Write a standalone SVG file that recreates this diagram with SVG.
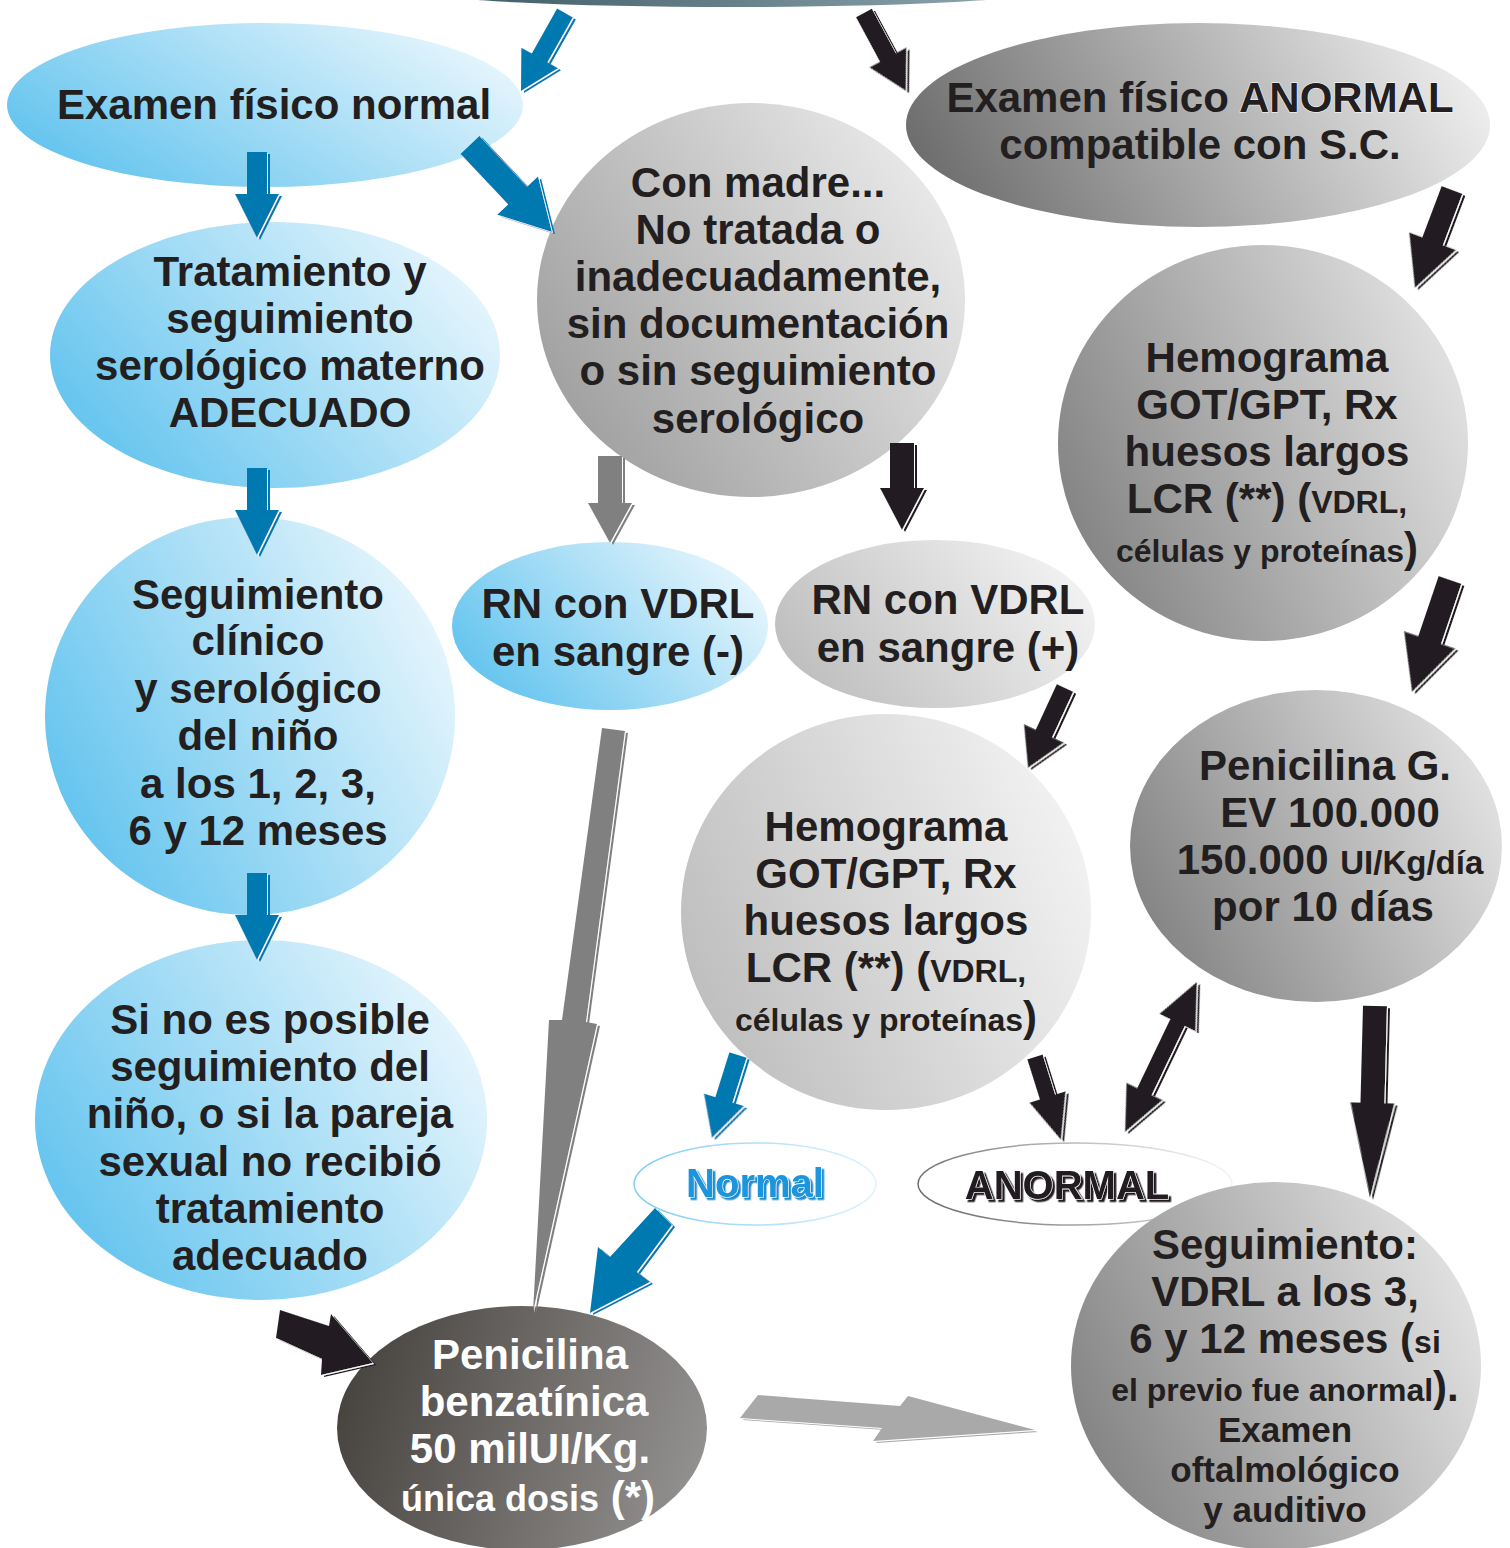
<svg xmlns="http://www.w3.org/2000/svg" xmlns:xlink="http://www.w3.org/1999/xlink" width="1510" height="1548" viewBox="0 0 1510 1548">
<defs>
<linearGradient id="gBlue" x1="0" y1="0.75" x2="1" y2="0.25"><stop offset="0" stop-color="#5fc2ee"/><stop offset="1" stop-color="#eaf7fd"/></linearGradient>
<linearGradient id="gA" x1="0" y1="0.8" x2="1" y2="0.2"><stop offset="0" stop-color="#9c9c9c"/><stop offset="1" stop-color="#ededed"/></linearGradient>
<linearGradient id="gB" x1="0" y1="0.7" x2="1" y2="0.3"><stop offset="0" stop-color="#828282"/><stop offset="1" stop-color="#e3e3e3"/></linearGradient>
<linearGradient id="gC" x1="0" y1="0.7" x2="1" y2="0.3"><stop offset="0" stop-color="#bdbdbd"/><stop offset="1" stop-color="#f3f3f3"/></linearGradient>
<linearGradient id="gD" x1="0" y1="0.6" x2="1" y2="0.4"><stop offset="0" stop-color="#6c6c6c"/><stop offset="1" stop-color="#eeeeee"/></linearGradient>
<linearGradient id="gE" x1="0" y1="0.4" x2="1" y2="0.6"><stop offset="0" stop-color="#47433f"/><stop offset="1" stop-color="#939190"/></linearGradient>
<linearGradient id="gTop" x1="0" y1="0" x2="1" y2="0"><stop offset="0" stop-color="#3c5964"/><stop offset="1" stop-color="#91a8b0"/></linearGradient>
<linearGradient id="sBlue" x1="0" y1="0.5" x2="1" y2="0.5"><stop offset="0" stop-color="#7fcdf3"/><stop offset="1" stop-color="#dff3fc"/></linearGradient>
<linearGradient id="sGray" x1="0" y1="0.6" x2="1" y2="0.4"><stop offset="0" stop-color="#6a6a6a"/><stop offset="1" stop-color="#f4f4f4"/></linearGradient>
<filter id="edge" x="-5%" y="-5%" width="110%" height="110%">
<feOffset in="SourceGraphic" dx="2.6" dy="1.6" result="s"/>
<feOffset in="SourceAlpha" dx="1.3" dy="0.8" result="w0"/>
<feFlood flood-color="#ffffff"/>
<feComposite in2="w0" operator="in" result="w"/>
<feMerge><feMergeNode in="s"/><feMergeNode in="w"/><feMergeNode in="SourceGraphic"/></feMerge>
</filter>
<filter id="shBlue" x="-10%" y="-20%" width="120%" height="150%"><feDropShadow dx="2.5" dy="2.5" stdDeviation="0" flood-color="#1b8fd2"/></filter>
<filter id="shDark" x="-10%" y="-20%" width="120%" height="150%"><feDropShadow dx="2.5" dy="2.5" stdDeviation="0" flood-color="#231f20"/></filter>
</defs>
<style>
.t{font-family:"Liberation Sans",Arial,sans-serif;font-weight:bold;font-size:42px;fill:#231f20;text-anchor:middle}
.s32{font-size:32px}
.s35{font-size:35px}
.wh{fill:#ffffff}
.blue{fill:#0079b1}
.black{fill:#231f20}
.grey{fill:#808080}
.lgrey{fill:#a9a9a9}
</style>
<rect width="1510" height="1548" fill="#ffffff"/>

<g id="node-top"><ellipse cx="732" cy="-8" rx="300" ry="15" fill="url(#gTop)"/></g>

<g id="node-examen-normal">
<ellipse cx="265" cy="105" rx="258" ry="82" fill="url(#gBlue)"/>
<text class="t" x="274" y="119">Examen físico normal</text>
</g>

<g id="node-examen-anormal">
<ellipse cx="1198" cy="125" rx="292" ry="102" fill="url(#gD)"/>
<text class="t" x="1200" y="112">Examen físico <tspan stroke="#ffffff" stroke-width="1" paint-order="stroke">ANORMAL</tspan></text>
<text class="t" x="1200" y="159">compatible con S.C.</text>
</g>

<g id="node-tratamiento">
<ellipse cx="275" cy="355" rx="225" ry="133" fill="url(#gBlue)"/>
<text class="t" x="290" y="286">Tratamiento y</text>
<text class="t" x="290" y="333">seguimiento</text>
<text class="t" x="290" y="380">serológico materno</text>
<text class="t" x="290" y="427">ADECUADO</text>
</g>

<g id="node-seguimiento-clinico">
<ellipse cx="250" cy="716" rx="205" ry="199" fill="url(#gBlue)"/>
<text class="t" x="258" y="609">Seguimiento</text>
<text class="t" x="258" y="655">clínico</text>
<text class="t" x="258" y="703">y serológico</text>
<text class="t" x="258" y="750">del niño</text>
<text class="t" x="258" y="798">a los 1, 2, 3,</text>
<text class="t" x="258" y="845">6 y 12 meses</text>
</g>

<g id="node-si-no-posible">
<ellipse cx="261" cy="1120" rx="226" ry="180" fill="url(#gBlue)"/>
<text class="t" x="270" y="1034">Si no es posible</text>
<text class="t" x="270" y="1081">seguimiento del</text>
<text class="t" x="270" y="1128">niño, o si la pareja</text>
<text class="t" x="270" y="1176">sexual no recibió</text>
<text class="t" x="270" y="1223">tratamiento</text>
<text class="t" x="270" y="1270">adecuado</text>
</g>

<g id="node-con-madre">
<ellipse cx="751" cy="300" rx="214" ry="197" fill="url(#gA)"/>
<text class="t" x="758" y="197">Con madre...</text>
<text class="t" x="758" y="244">No tratada o</text>
<text class="t" x="758" y="291">inadecuadamente,</text>
<text class="t" x="758" y="338">sin documentación</text>
<text class="t" x="758" y="385">o sin seguimiento</text>
<text class="t" x="758" y="433">serológico</text>
</g>

<g id="node-rn-negativo">
<ellipse cx="610" cy="626" rx="158" ry="84" fill="url(#gBlue)"/>
<text class="t" x="618" y="618">RN con VDRL</text>
<text class="t" x="618" y="666">en sangre (-)</text>
</g>

<g id="node-rn-positivo">
<ellipse cx="935" cy="624" rx="160" ry="84" fill="url(#gC)"/>
<text class="t" x="948" y="614">RN con VDRL</text>
<text class="t" x="948" y="662">en sangre (+)</text>
</g>

<g id="node-hemograma-derecha">
<ellipse cx="1263" cy="443" rx="205" ry="198" fill="url(#gB)"/>
<text class="t" x="1267" y="372">Hemograma</text>
<text class="t" x="1267" y="419">GOT/GPT, Rx</text>
<text class="t" x="1267" y="466">huesos largos</text>
<text class="t" x="1267" y="513">LCR (**) (<tspan class="s32">VDRL,</tspan></text>
<text class="t" x="1267" y="562"><tspan class="s32">células y proteínas</tspan>)</text>
</g>

<g id="node-penicilina-g">
<ellipse cx="1316" cy="846" rx="186" ry="156" fill="url(#gB)"/>
<text class="t" x="1325" y="780">Penicilina G.</text>
<text class="t" x="1330" y="827">EV 100.000</text>
<text class="t" x="1330" y="874">150.000 <tspan style="font-size:33px">UI/Kg/día</tspan></text>
<text class="t" x="1323" y="921">por 10 días</text>
</g>

<g id="node-hemograma-centro">
<ellipse cx="886" cy="912" rx="205" ry="198" fill="url(#gC)"/>
<text class="t" x="886" y="841">Hemograma</text>
<text class="t" x="886" y="888">GOT/GPT, Rx</text>
<text class="t" x="886" y="935">huesos largos</text>
<text class="t" x="886" y="982">LCR (**) (<tspan class="s32">VDRL,</tspan></text>
<text class="t" x="886" y="1031"><tspan class="s32">células y proteínas</tspan>)</text>
</g>

<g id="node-normal">
<ellipse cx="755" cy="1184" rx="121" ry="41" fill="#ffffff" stroke="url(#sBlue)" stroke-width="1.5"/>
<text class="t" x="755" y="1197" style="font-size:40px;fill:#1b95dc" stroke="#ffffff" stroke-width="1.2" paint-order="stroke" filter="url(#shBlue)">Normal</text>
</g>

<g id="node-anormal">
<ellipse cx="1075" cy="1184" rx="157" ry="41" fill="#ffffff" stroke="url(#sGray)" stroke-width="1.5"/>
<text class="t" x="1067" y="1199" style="font-size:40px" stroke="#ffffff" stroke-width="1.2" paint-order="stroke" filter="url(#shDark)">ANORMAL</text>
</g>

<g id="node-penicilina-benzatinica">
<ellipse cx="522" cy="1428" rx="185" ry="122" fill="url(#gE)"/>
<text class="t wh" x="530" y="1369">Penicilina</text>
<text class="t wh" x="534" y="1416">benzatínica</text>
<text class="t wh" x="530" y="1463">50 milUI/Kg.</text>
<text class="t wh" x="528" y="1511"><tspan style="font-size:36px">única dosis</tspan> (*)</text>
</g>

<g id="node-seguimiento-final">
<ellipse cx="1276" cy="1366" rx="205" ry="184" fill="url(#gB)"/>
<text class="t" x="1285" y="1259">Seguimiento:</text>
<text class="t" x="1285" y="1306">VDRL a los 3,</text>
<text class="t" x="1285" y="1353">6 y 12 meses (<tspan class="s32">si</tspan></text>
<text class="t" x="1285" y="1401"><tspan class="s32">el previo fue anormal</tspan>).</text>
<text class="t s35" x="1285" y="1442">Examen</text>
<text class="t s35" x="1285" y="1482">oftalmológico</text>
<text class="t s35" x="1285" y="1522">y auditivo</text>
</g>

<g id="connectors" filter="url(#edge)">
<path class="blue" d="M0,-9H51.6V-21L89.6,0L51.6,21V9H0Z" transform="translate(565,13) rotate(119.4)"/>
<path class="black" d="M0,-9H50.6V-21L88.6,0L50.6,21V9H0Z" transform="translate(864,13) rotate(61.7)"/>
<path class="blue" d="M0,-10H42V-22L86,0L42,22V10H0Z" transform="translate(257,152) rotate(90)"/>
<path class="blue" d="M0,-13H69.5V-28L119.5,0L69.5,28V13H0Z" transform="translate(470,145) rotate(46.7)"/>
<path class="blue" d="M0,-10H42V-22L87,0L42,22V10H0Z" transform="translate(257,468) rotate(90)"/>
<path class="blue" d="M0,-10H42V-22L87,0L42,22V10H0Z" transform="translate(257,873) rotate(90)"/>
<path class="grey" d="M0,-12H47V-22L87,0L47,22V12H0Z" transform="translate(610,456) rotate(90)"/>
<path class="black" d="M0,-12H45V-22L87,0L45,22V12H0Z" transform="translate(902,443) rotate(90)"/>
<path class="black" d="M0,-11H54.8V-25L104.8,0L54.8,25V11H0Z" transform="translate(1452,190) rotate(110.7)"/>
<path class="black" d="M0,-12H63.3V-27L118.3,0L63.3,27V12H0Z" transform="translate(1450,580) rotate(108.7)"/>
<path class="black" d="M0,-9H50.1V-22L88.1,0L50.1,22V9H0Z" transform="translate(1065,688) rotate(114.8)"/>
<path class="grey" d="M602,728L625,731L586,1022L597,1024L533,1312L549,1020L562,1020Z"/>
<path class="blue" d="M0,-9H47V-21L87,0L47,21V9H0Z" transform="translate(738,1055) rotate(107.4)"/>
<path class="black" d="M0,-8H42V-19L87,0L42,19V8H0Z" transform="translate(1035,1057) rotate(72.6)"/>
<path class="black" d="M0,0L45,-20V-8H121.4V-20L166.4,0L121.4,20V8H45V20Z" transform="translate(1197,982) rotate(115.6)"/>
<path class="black" d="M0,-12H97V-22L192,0L97,22V12H0Z" transform="translate(1375,1006) rotate(91.5)"/>
<path class="blue" d="M655,1208L672,1225L637,1272L650,1282L590,1313L598,1247L610,1257Z"/>
<path class="black" d="M280,1310L329,1326L331,1314L373,1363L321,1375L322,1359L276,1338Z"/>
<path class="lgrey" d="M758,1395L900,1406L908,1396L1035,1430L873,1441L882,1428L740,1418Z"/>
</g>
</svg>
